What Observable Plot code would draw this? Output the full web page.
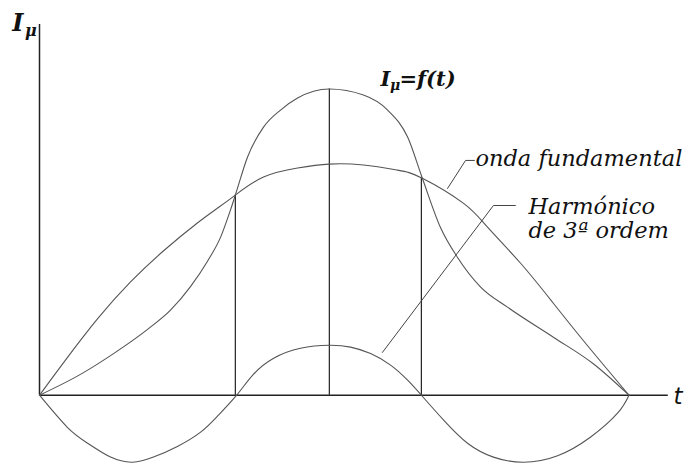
<!DOCTYPE html>
<html>
<head>
<meta charset="utf-8">
<script src="https://cdn.jsdelivr.net/npm/d3@7"></script>
<script src="https://cdn.jsdelivr.net/npm/@observablehq/plot@0.6"></script>
<style>
  html, body { margin: 0; padding: 0; background: #fff; }
  #chart svg { display: block; }
</style>
</head>
<body>
<div id="chart"></div>
<script>
// t in electrical degrees (0..180 = half period), current in units of fundamental peak
const fundT = [0, 7.3, 17.7, 27.8, 37.9, 48.2, 54.4, 59.8, 68.4, 78.8, 88.5, 98.9, 109.3, 116.9, 129.4, 136.8, 146.9, 156.9, 167.3, 180];
const fundY = [0, 0.14, 0.33, 0.49, 0.625, 0.745, 0.81, 0.866, 0.944, 0.983, 1.0, 0.996, 0.974, 0.939, 0.831, 0.727, 0.571, 0.398, 0.215, 0];

const resT = [0, 12.5, 22.6, 33.0, 40.0, 46.1, 51.3, 55.3, 58.3, 59.8, 63.5, 68.4, 73.6, 78.8, 88.5, 98.9, 106.3, 112.4, 116.9, 122.4, 127.6, 134.7, 142.9, 156.9, 169.2, 180];
const resY = [0, 0.090, 0.180, 0.285, 0.368, 0.470, 0.580, 0.684, 0.801, 0.866, 1.030, 1.160, 1.234, 1.286, 1.325, 1.299, 1.234, 1.117, 0.939, 0.727, 0.597, 0.468, 0.381, 0.251, 0.135, 0];

const harmT = [0, 8.5, 14.7, 21.7, 28.4, 34.8, 42.1, 49.2, 54.4, 60.2, 65.3, 71.5, 79.7, 88.5, 95.0, 101.1, 107.2, 112.4, 116.6, 123.4, 130.7, 138.6, 147.8, 158.2, 168.2, 176.5, 180];
const harmY = [0, -0.139, -0.208, -0.268, -0.290, -0.268, -0.222, -0.160, -0.090, 0, 0.090, 0.160, 0.203, 0.216, 0.208, 0.180, 0.130, 0.065, 0, -0.108, -0.208, -0.268, -0.290, -0.262, -0.182, -0.078, 0];

// vertical guide lines: position and height
const guideT = [59.8, 88.5, 116.6];
const guideTop = [0.866, 1.325, 0.939];

// leader lines
const leadFundT = [124.6, 130.1, 132.8];
const leadFundY = [0.895, 1.016, 1.016];
const leadHarmT = [104.7, 138.6, 145.3];
const leadHarmY = [0.185, 0.821, 0.821];

// axes extents
const axisTEnd = 192;
const axisYTop = 1.604;

// labels
const labelText = ["onda fundamental", "Harmónico", "de 3ª ordem"];
const labelT = [133.1, 149.3, 149.3];
const labelY = [0.994, 0.786, 0.682];

const mathText = ["I", "μ", "I", "μ", "=f(t)"];
const mathT = [-8.3, -4.4, 104.1, 107.0, 109.9];
const mathY = [1.578, 1.555, 1.340, 1.322, 1.340];
const mathSize = [24, 16, 21, 14, 21];

const tLabel = ["t"];
const tLabelT = [193.6];
const tLabelY = [-0.040];

const idx = a => a.map((_, i) => i);

const chart = Plot.plot({
  width: 694,
  height: 464,
  marginLeft: 39,
  marginRight: 0,
  marginTop: 25,
  marginBottom: 0,
  x: {domain: [0, 200], axis: null},
  y: {domain: [-0.3, 1.6], axis: null},
  style: {background: "#fff", overflow: "visible"},
  marks: [
    Plot.ruleY([0], {x1: 0, x2: axisTEnd, stroke: "#222", strokeWidth: 1.5}),
    Plot.ruleX([0], {y1: 0, y2: axisYTop, stroke: "#222", strokeWidth: 1.5}),
    Plot.ruleX(idx(guideT), {x: i => guideT[i], y1: 0, y2: i => guideTop[i], stroke: "#222", strokeWidth: 1.2}),
    Plot.line(idx(fundT), {x: i => fundT[i], y: i => fundY[i], curve: "natural", stroke: "#555", strokeWidth: 1.1}),
    Plot.line(idx(resT), {x: i => resT[i], y: i => resY[i], curve: "monotone-x", stroke: "#555", strokeWidth: 1.1}),
    Plot.line(idx(harmT), {x: i => harmT[i], y: i => harmY[i], curve: "natural", stroke: "#555", strokeWidth: 1.1}),
    Plot.line(idx(leadFundT), {x: i => leadFundT[i], y: i => leadFundY[i], stroke: "#444", strokeWidth: 1}),
    Plot.line(idx(leadHarmT), {x: i => leadHarmT[i], y: i => leadHarmY[i], stroke: "#444", strokeWidth: 1}),
    Plot.text(idx(labelText), {x: i => labelT[i], y: i => labelY[i], text: i => labelText[i],
      textAnchor: "start", lineAnchor: "bottom", fontFamily: "DejaVu Serif", fontStyle: "italic",
      fontSize: 22.5, fill: "#111"}),
    Plot.text(idx(mathText), {x: i => mathT[i], y: i => mathY[i], text: i => mathText[i],
      textAnchor: "start", lineAnchor: "bottom", fontFamily: "DejaVu Serif", fontStyle: "italic",
      fontWeight: "bold", fontSize: i => mathSize[i], fill: "#111"}),
    Plot.text(tLabel, {x: i => tLabelT[0], y: i => tLabelY[0], text: d => d,
      textAnchor: "start", lineAnchor: "bottom", fontFamily: "DejaVu Sans", fontStyle: "italic",
      fontSize: 23, fill: "#111"})
  ]
});
document.getElementById("chart").appendChild(chart);
</script>
</body>
</html>
